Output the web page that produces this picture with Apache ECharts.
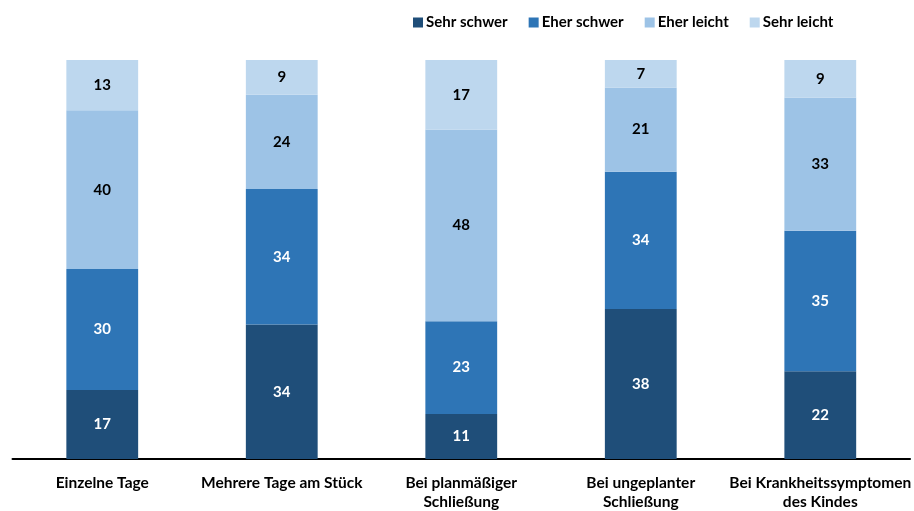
<!DOCTYPE html>
<html>
<head>
<meta charset="utf-8">
<script src="https://cdn.jsdelivr.net/npm/echarts@6/dist/echarts.min.js"></script>
<style>
html,body{margin:0;padding:0;background:#fff;}
#c{width:914px;height:511px;}
</style>
</head>
<body>
<div id="c"></div>
<script>
var categories = ["Einzelne Tage", "Mehrere Tage am Stück", "Bei planmäßiger\nSchließung", "Bei ungeplanter\nSchließung", "Bei Krankheitssymptomen\ndes Kindes"];
var seriesNames = ["Sehr schwer", "Eher schwer", "Eher leicht", "Sehr leicht"];
var sehrSchwer = [17.3, 33.7, 11.3, 37.6, 22.0];
var eherSchwer = [30.3, 34.0, 23.2, 34.4, 35.2];
var eherLeicht = [39.8, 23.6, 48.1, 21.1, 33.4];
var sehrLeicht = [12.6, 8.7, 17.4, 6.9, 9.4];
var colors = ["#1F4E79", "#2E75B6", "#9DC3E6", "#BDD7EE"];
var labelColors = ["#ffffff", "#ffffff", "#000000", "#000000"];

var FONT = "Lato";
var allData = [sehrSchwer, eherSchwer, eherLeicht, sehrLeicht];
var series = allData.map(function (d, i) {
  return {
    name: seriesNames[i],
    type: "bar",
    stack: "total",
    barWidth: "40%",
    data: d,
    itemStyle: { color: colors[i] },
    label: {
      show: true,
      position: "inside",
      color: labelColors[i],
      fontFamily: FONT,
      fontWeight: "bold",
      fontSize: 15,
      formatter: function (p) { return Math.round(p.value); }
    }
  };
});

var chart = echarts.init(document.getElementById("c"), null, { renderer: "canvas" });
chart.setOption({
  animation: false,
  backgroundColor: "#fff",
  legend: {
    data: seriesNames,
    left: 408,
    top: 10,
    icon: "rect",
    itemWidth: 10,
    itemHeight: 10,
    itemGap: 21,
    textStyle: { fontFamily: FONT, fontWeight: "bold", fontSize: 15, color: "#000", padding: [0, 0, 0, -2] }
  },
  grid: { left: 12.5, right: 1.5, top: 60, bottom: 49.3, containLabel: false },
  xAxis: {
    type: "category",
    data: categories,
    axisTick: { show: false },
    axisLine: { lineStyle: { color: "#000", width: 2 } },
    axisLabel: {
      interval: 0,
      margin: 14,
      color: "#000",
      fontFamily: FONT,
      fontWeight: "bold",
      fontSize: 15.5,
      lineHeight: 19
    }
  },
  yAxis: {
    type: "value",
    min: 0,
    max: 100,
    show: false,
    splitLine: { show: false }
  },
  series: series
});
</script>
</body>
</html>
